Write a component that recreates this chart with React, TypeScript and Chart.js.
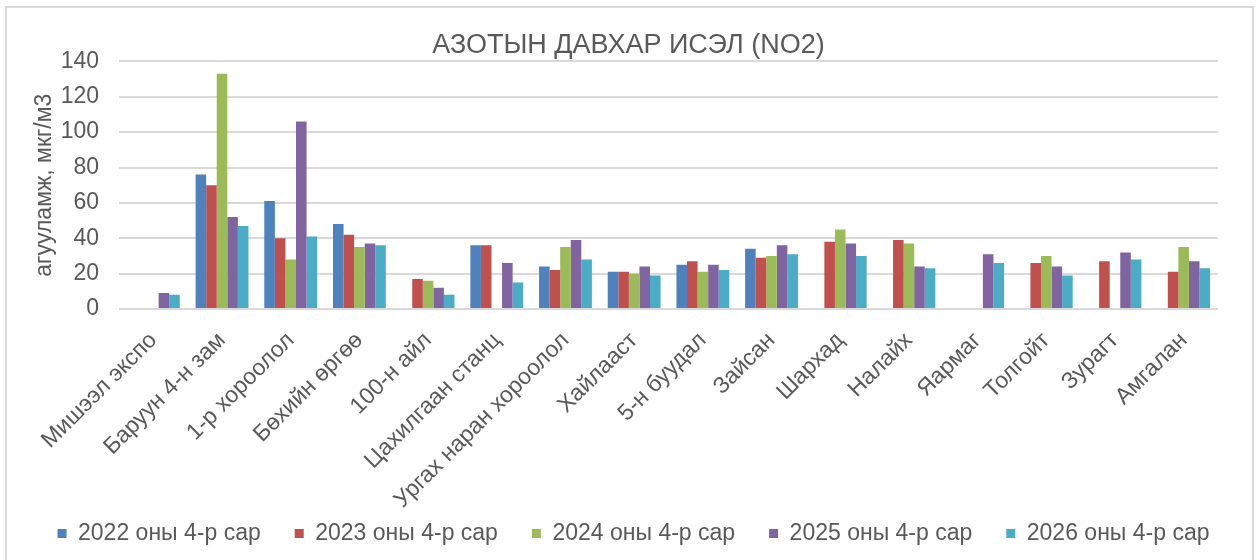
import React, { useEffect, useRef } from "react";
import { Chart, registerables } from "chart.js";

Chart.register(...registerables);

const categories = [
  "Мишээл экспо",
  "Баруун 4-н зам",
  "1-р хороолол",
  "Бөхийн өргөө",
  "100-н айл",
  "Цахилгаан станц",
  "Ургах наран хороолол",
  "Хайлааст",
  "5-н буудал",
  "Зайсан",
  "Шархад",
  "Налайх",
  "Яармаг",
  "Толгойт",
  "Зурагт",
  "Амгалан",
];

const seriesNames = [
  "2022 оны 4-р сар",
  "2023 оны 4-р сар",
  "2024 оны 4-р сар",
  "2025 оны 4-р сар",
  "2026 оны 4-р сар",
];

const values2022 = [null, 76, 61, 48, null, 36, 24, 21, 25, 34, null, null, null, null, null, null];
const values2023 = [null, 70, 40, 42, 17, 36, 22, 21, 27, 29, 38, 39, null, 26, 27, 21];
const values2024 = [null, 133, 28, 35, 16, null, 35, 20, 21, 30, 45, 37, null, 30, null, 35];
const values2025 = [9, 52, 106, 37, 12, 26, 39, 24, 25, 36, 37, 24, 31, 24, 32, 27];
const values2026 = [8, 47, 41, 36, 8, 15, 28, 19, 22, 31, 30, 23, 26, 19, 28, 23];

const yTicks = [0, 20, 40, 60, 80, 100, 120, 140];

const colors = ["#4F81BD", "#C0504D", "#9BBB59", "#8064A2", "#4BACC6"];

export default function App() {
  const canvasRef = useRef<HTMLCanvasElement | null>(null);

  useEffect(() => {
    if (!canvasRef.current) return;
    const allValues = [values2022, values2023, values2024, values2025, values2026];
    const font = "'Liberation Sans', Arial, sans-serif";
    const textColor = "#595959";
    const chart = new Chart(canvasRef.current, {
      type: "bar",
      data: {
        labels: categories,
        datasets: allValues.map((vals, i) => ({
          label: seriesNames[i],
          data: vals,
          backgroundColor: colors[i],
          categoryPercentage: 5 / 6.5,
          barPercentage: 1,
          yAxisID: "y",
        })),
      },
      options: {
        animation: false,
        responsive: false,
        maintainAspectRatio: false,
        layout: { padding: { left: 0, right: 0, top: 0, bottom: 5 } },
        plugins: {
          title: {
            display: true,
            text: "АЗОТЫН ДАВХАР ИСЭЛ (NO2)",
            color: textColor,
            font: { family: font, size: 27, weight: "normal" },
            padding: { top: 29, bottom: 0 },
          },
          legend: {
            position: "bottom",
            labels: {
              color: textColor,
              font: { family: font, size: 23 },
              boxWidth: 9,
              boxHeight: 9,
              padding: 34,
            },
          },
          tooltip: { enabled: false },
        },
        scales: {
          x: {
            grid: { display: false, drawTicks: false },
            border: { display: false },
            ticks: {
              color: textColor,
              font: { family: font, size: 23 },
              minRotation: 45,
              maxRotation: 45,
              autoSkip: false,
              padding: 18,
            },
            afterFit: (scale: any) => {
              scale.height = 179;
            },
          },
          y: {
            position: "left",
            min: 0,
            max: 140,
            afterBuildTicks: (scale: any) => {
              scale.ticks = yTicks.map((v) => ({ value: v }));
            },
            grid: { color: "#d9d9d9", lineWidth: 2, drawTicks: false },
            border: { display: false },
            ticks: {
              color: textColor,
              font: { family: font, size: 23 },
              padding: 20,
              autoSkip: false,
            },
            title: {
              display: true,
              text: "агууламж, мкг/м3",
              color: textColor,
              font: { family: font, size: 23 },
              padding: { top: 31, bottom: 0 },
            },
            afterFit: (scale: any) => {
              scale.width = 119;
            },
          },
          yRight: {
            position: "right",
            display: true,
            grid: { display: false, drawTicks: false },
            border: { display: false },
            ticks: { display: false },
            afterFit: (scale: any) => {
              scale.width = 41;
            },
          },
        },
      },
      plugins: [
        {
          id: "shiftBlocks",
          afterLayout: (c: any) => {
            if (c.legend) {
              c.legend.left += 4;
              c.legend.right += 4;
            }
            if (c.titleBlock) {
              c.titleBlock.left -= 1;
              c.titleBlock.right -= 1;
            }
            if (c.scales && c.scales.x) {
              c.scales.x.bottom += 40;
            }
          },
        },
      ],
    });
    return () => chart.destroy();
  }, []);

  return (
    <div style={{ position: "fixed", left: 0, top: 0, width: 1259, height: 560, background: "#fff" }}>
      <div
        style={{
          position: "absolute",
          left: 5,
          top: 6,
          width: 1249,
          height: 560,
          border: "2px solid #d9d9d9",
          boxSizing: "border-box",
        }}
      />
      <canvas
        ref={canvasRef}
        width={1259}
        height={560}
        style={{ position: "absolute", left: 0, top: 0, width: 1259, height: 560 }}
      />
    </div>
  );
}
